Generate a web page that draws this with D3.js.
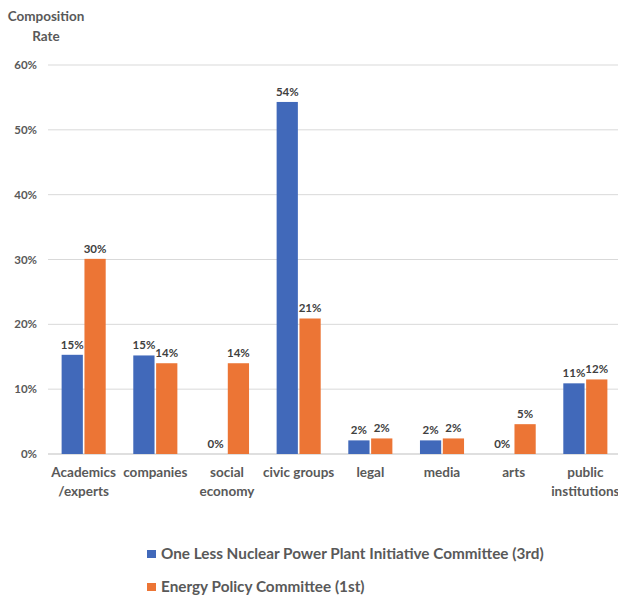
<html>
<head>
<script src="https://d3js.org/d3.v7.min.js"></script>
<style>
  body { margin: 0; background: #fff; }
  text { font-family: Lato, "Open Sans", sans-serif; font-weight: bold; fill: #404040; }
</style>
</head>
<body>
<svg width="618" height="596"></svg>
<script>
const categories = [["Academics", "/experts"], ["companies"], ["social", "economy"], ["civic groups"],
                    ["legal"], ["media"], ["arts"], ["public", "institutions"]];
const series = ["One Less Nuclear Power Plant Initiative Committee (3rd)", "Energy Policy Committee (1st)"];
const blueValues = [15.3, 15.2, 0, 54.3, 2.1, 2.1, 0, 10.9];
const orangeValues = [30.1, 14.0, 14.0, 20.9, 2.4, 2.4, 4.6, 11.5];
const yTicks = [0, 10, 20, 30, 40, 50, 60];
const colors = ["#4169BA", "#EC7535"];

const svg = d3.select("svg");
const catKeys = categories.map(c => c.join(" "));

const x0 = d3.scaleBand().domain(catKeys).range([48, 621]).paddingInner(0.385).paddingOuter(0.19);
const x1 = d3.scaleBand().domain(series).range([0, x0.bandwidth()]).paddingInner(0.07);
const y = d3.scaleLinear().domain([0, 60]).range([454, 65]);

// gridlines
svg.selectAll("line.grid").data(yTicks)
   .join("line")
   .attr("x1", 48).attr("x2", 621)
   .attr("y1", d => y(d)).attr("y2", d => y(d))
   .attr("stroke", d => d === 0 ? "#bfbfbf" : "#d9d9d9")
   .attr("stroke-width", 1);

// y tick labels
svg.selectAll("text.ytick").data(yTicks)
   .join("text")
   .attr("x", 37).attr("y", d => y(d) + 4)
   .attr("text-anchor", "end")
   .style("font-size", "11.5px")
   .style("fill", "#595959")
   .text(d => d + "%");

// axis title
svg.append("text").attr("x", 46).attr("y", 21).attr("text-anchor", "middle")
   .style("font-size", "13.5px").style("fill", "#595959").text("Composition");
svg.append("text").attr("x", 46).attr("y", 41).attr("text-anchor", "middle")
   .style("font-size", "13.5px").style("fill", "#595959").text("Rate");

// bars
const rows = catKeys.map((k, i) => ({ key: k, values: [blueValues[i], orangeValues[i]] }));
const groups = svg.selectAll("g.cat").data(rows)
   .join("g")
   .attr("transform", d => `translate(${x0(d.key)},0)`);

groups.selectAll("rect").data(d => d.values.map((v, j) => ({ s: series[j], v, j })))
   .join("rect")
   .attr("x", d => x1(d.s))
   .attr("width", x1.bandwidth())
   .attr("y", d => y(d.v))
   .attr("height", d => y(0) - y(d.v))
   .attr("fill", d => colors[d.j]);

groups.selectAll("text.val").data(d => d.values.map((v, j) => ({ s: series[j], v, j })))
   .join("text")
   .attr("class", "val")
   .attr("x", d => x1(d.s) + x1.bandwidth() / 2)
   .attr("y", d => y(d.v) - 6)
   .attr("text-anchor", "middle")
   .style("font-size", "11.5px")
   .text(d => Math.round(d.v) + "%");

// category labels
categories.forEach((c, i) => {
  const cx = x0(catKeys[i]) + x0.bandwidth() / 2;
  c.forEach((line, k) => {
    svg.append("text")
       .attr("x", cx).attr("y", 477 + k * 19)
       .attr("text-anchor", "middle")
       .style("font-size", "13.5px")
       .style("fill", "#595959")
       .text(line);
  });
});

// legend
series.forEach((s, i) => {
  const ly = 550 + i * 33;
  svg.append("rect").attr("x", 147).attr("y", ly).attr("width", 9).attr("height", 8).attr("fill", colors[i]);
  svg.append("text").attr("x", 161).attr("y", ly + 9)
     .style("font-size", "15.3px").style("fill", "#595959").text(s);
});
</script>
</body>
</html>
